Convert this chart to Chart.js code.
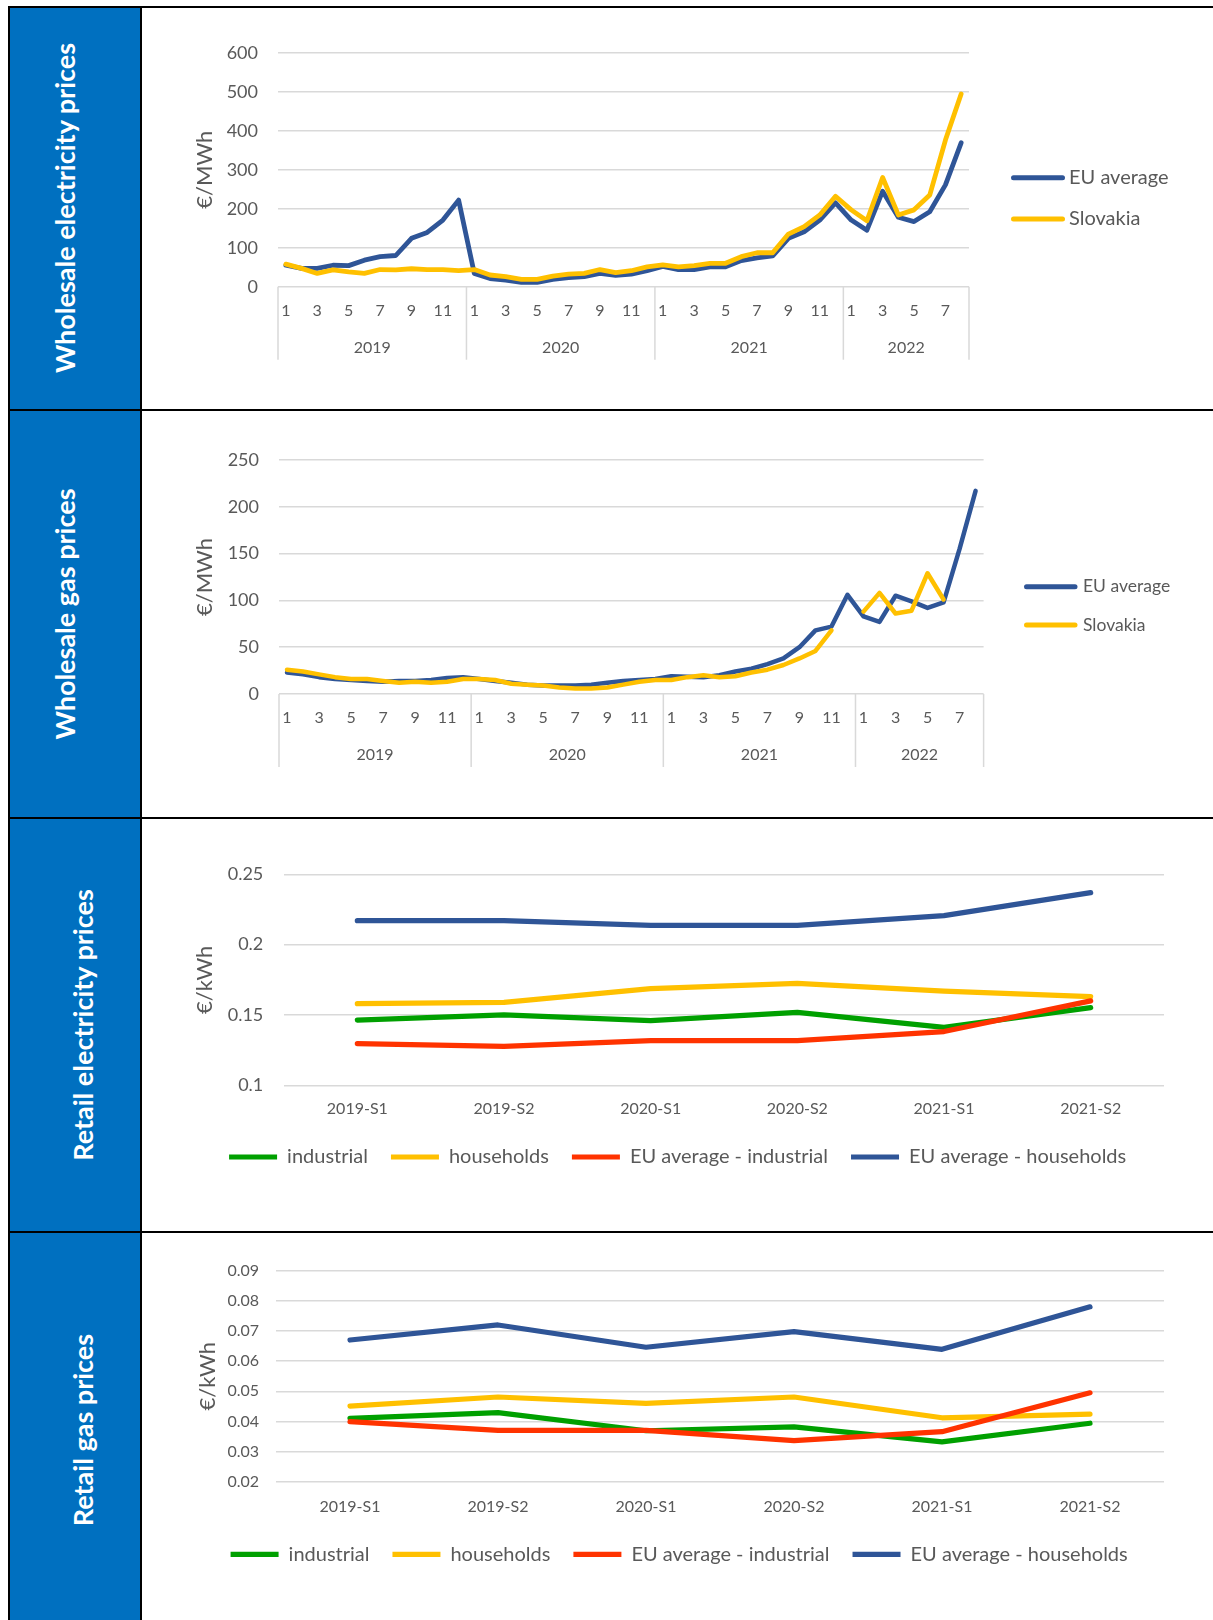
<!DOCTYPE html>
<html>
<head>
<meta charset="utf-8">
<title>Energy prices - Slovakia and EU average</title>
<script src="https://cdn.jsdelivr.net/npm/chart.js@4.4.0/dist/chart.umd.min.js"></script>
<style>
    html, body { margin: 0; padding: 0; background: #fff; }
    #page { position: relative; width: 1213px; height: 1620px; overflow: hidden; }
    .band { position: absolute; left: 10px; top: 8px; width: 130px; height: 1612px; background: #0070C0; }
    .rule { position: absolute; background: #000; }
    .side {
        position: absolute;
        color: #fff;
        font: bold 27px Lato, sans-serif;
        white-space: nowrap;
        transform: translate(-50%, -50%) rotate(-90deg);
    }
    canvas { position: absolute; left: 142px; }
</style>
</head>
<body>
<div id="page">
    <div class="band"></div>
    <div class="rule" style="left:8px;top:6px;width:1205px;height:2px"></div>
    <div class="rule" style="left:8px;top:6px;width:2px;height:1614px"></div>
    <div class="rule" style="left:140px;top:6px;width:2px;height:1614px"></div>
    <div class="rule" style="left:8px;top:409px;width:1205px;height:2px"></div>
    <div class="rule" style="left:8px;top:817px;width:1205px;height:2px"></div>
    <div class="rule" style="left:8px;top:1231px;width:1205px;height:2px"></div>

    <div class="side" style="left:64px;top:208px">Wholesale electricity prices</div>
    <div class="side" style="left:64px;top:614px">Wholesale gas prices</div>
    <div class="side" style="left:82px;top:1025px">Retail electricity prices</div>
    <div class="side" style="left:82px;top:1430px">Retail gas prices</div>

    <canvas id="wholesaleElecChart" width="1071" height="401" style="top:8px"></canvas>
    <canvas id="wholesaleGasChart" width="1071" height="406" style="top:411px"></canvas>
    <canvas id="retailElecChart" width="1071" height="412" style="top:819px"></canvas>
    <canvas id="retailGasChart" width="1071" height="387" style="top:1233px"></canvas>
</div>

<script>
// ---- Monthly wholesale data, Jan 2019 - Aug 2022 ----
const monthLabels = [
    '1', '2', '3', '4', '5', '6', '7', '8', '9', '10', '11', '12',
    '1', '2', '3', '4', '5', '6', '7', '8', '9', '10', '11', '12',
    '1', '2', '3', '4', '5', '6', '7', '8', '9', '10', '11', '12',
    '1', '2', '3', '4', '5', '6', '7', '8'
];
const yearLabels = ['2019', '2020', '2021', '2022'];
const monthsPerYear = [12, 12, 12, 8];

// €/MWh
const elecEU = [55, 47, 47, 55, 54, 68, 77, 80, 124, 139, 171, 222,
                34, 21, 17, 11, 11, 19, 23, 26, 34, 29, 32, 41,
                52, 44, 44, 51, 51, 67, 74, 79, 124, 141, 171, 215,
                171, 145, 245, 178, 167, 192, 261, 369];
const elecSK = [58, 47, 34, 43, 38, 34, 44, 43, 46, 44, 44, 41,
                44, 30, 26, 19, 19, 27, 32, 34, 44, 36, 41, 51,
                56, 51, 54, 60, 60, 77, 87, 87, 135, 154, 184, 232,
                197, 169, 280, 184, 197, 235, 376, 494];

const gasEU = [23, 21, 18, 16, 15, 14, 13, 14, 14, 15, 17, 18,
               16, 14, 12, 10, 9, 9, 9, 10, 12, 14, 15, 16,
               19, 18.5, 18, 20, 24, 27, 32, 38, 50, 68, 72, 106,
               83, 77, 105, 99, 92, 98, 155, 217];
const gasSK = [26, 24, 21, 18, 16, 16, 14, 12, 13, 12, 13, 16,
               16, 15, 11, 10, 9, 7, 6, 6, 7, 10, 13, 15,
               15, 18, 20, 18, 19, 23, 26, 31, 38, 46, 68, null,
               88, 108, 86, 89, 129, 101, null, null];

// ---- Half-yearly retail data, €/kWh ----
const semesters = ['2019-S1', '2019-S2', '2020-S1', '2020-S2', '2021-S1', '2021-S2'];

const retailElecIndustrial   = [0.1464, 0.1500, 0.1460, 0.1519, 0.1412, 0.1552];
const retailElecHouseholds   = [0.1580, 0.1590, 0.1687, 0.1725, 0.1670, 0.1630];
const retailElecEUIndustrial = [0.1296, 0.1277, 0.1318, 0.1318, 0.1382, 0.1600];
const retailElecEUHouseholds = [0.2170, 0.2170, 0.2137, 0.2137, 0.2206, 0.2370];

const retailGasIndustrial   = [0.0410, 0.0429, 0.0369, 0.0382, 0.0332, 0.0394];
const retailGasHouseholds   = [0.0451, 0.0481, 0.0460, 0.0481, 0.0412, 0.0424];
const retailGasEUIndustrial = [0.0399, 0.0370, 0.0370, 0.0336, 0.0366, 0.0495];
const retailGasEUHouseholds = [0.0670, 0.0720, 0.0646, 0.0698, 0.0639, 0.0780];

// Colours
const BLUE = '#2F5597';
const YELLOW = '#FFC000';
const GREEN = '#00A000';
const RED = '#FF3300';
const GRID = '#D9D9D9';
const TEXT = '#595959';
const FONT = "Lato, 'Open Sans', sans-serif";

Chart.defaults.font.family = FONT;
Chart.defaults.color = TEXT;
Chart.defaults.animation = false;

let charts = {
    wholesaleElec: null,
    wholesaleGas: null,
    retailElec: null,
    retailGas: null
};

// Year row + dividers under the month labels (Excel style two level axis)
const yearAxisPlugin = {
    id: 'yearAxis',
    afterDraw(chart, args, opts) {
        const x = chart.scales.x;
        const ctx = chart.ctx;
        const step = x.getPixelForValue(1) - x.getPixelForValue(0);
        const divider = (px) => {
            ctx.beginPath();
            ctx.moveTo(px, x.top);
            ctx.lineTo(px, x.top + opts.dividerLength);
            ctx.stroke();
        };
        ctx.save();
        ctx.strokeStyle = GRID;
        ctx.lineWidth = 1.5;
        ctx.fillStyle = TEXT;
        ctx.font = opts.fontSize + 'px ' + FONT;
        ctx.textAlign = 'center';
        ctx.textBaseline = 'middle';
        let start = 0;
        let edge = x.getPixelForValue(0) - step / 2;
        divider(edge);
        opts.years.forEach((year, k) => {
            const end = start + opts.counts[k];
            const right = x.getPixelForValue(end - 1) + step / 2;
            ctx.fillText(year, (edge + right) / 2, x.top + opts.labelOffset);
            divider(right);
            edge = right;
            start = end;
        });
        ctx.restore();
    }
};

// Legend to the right of the plot area, laid out like the Excel one
const sideLegendPlugin = {
    id: 'sideLegend',
    afterDraw(chart, args, opts) {
        const ctx = chart.ctx;
        const x0 = chart.chartArea.right + opts.offset;
        ctx.save();
        ctx.font = opts.fontSize + 'px ' + FONT;
        ctx.textBaseline = 'middle';
        ctx.lineCap = 'round';
        ctx.lineWidth = opts.lineWidth;
        chart.data.datasets.forEach((ds, i) => {
            const y = opts.top + i * opts.gap;
            ctx.strokeStyle = ds.borderColor;
            ctx.beginPath();
            ctx.moveTo(x0 + opts.lineWidth / 2, y);
            ctx.lineTo(x0 + opts.sampleWidth - opts.lineWidth / 2, y);
            ctx.stroke();
            ctx.fillStyle = TEXT;
            ctx.fillText(ds.label, x0 + opts.sampleWidth + opts.textGap, y);
        });
        ctx.restore();
    }
};

function lineDataset(label, data, color, width, order) {
    return {
        label: label,
        data: data,
        borderColor: color,
        backgroundColor: color,
        borderWidth: width,
        borderJoinStyle: 'round',
        borderCapStyle: 'round',
        pointRadius: 0,
        pointHoverRadius: 0,
        tension: 0,
        spanGaps: false,
        order: order
    };
}

function yAxis(cfg) {
    return {
        min: cfg.min,
        max: cfg.max,
        ticks: {
            stepSize: cfg.step,
            padding: cfg.tickPadding,
            font: { size: cfg.tickSize },
            callback: cfg.format
        },
        grid: { color: GRID, lineWidth: 1.5, drawTicks: false },
        border: { display: false },
        title: { display: true, text: cfg.title, font: { size: 22 }, padding: 0 },
        afterFit: function(scale) { scale.width = cfg.width; }
    };
}

// Wholesale charts (monthly, two level category axis, legend on the right)
function initializeWholesaleChart(id, datasets, cfg) {
    const ctx = document.getElementById(id).getContext('2d');
    return new Chart(ctx, {
        type: 'line',
        data: { labels: monthLabels, datasets: datasets },
        options: {
            responsive: false,
            devicePixelRatio: 1,
            layout: { padding: cfg.padding },
            scales: {
                x: {
                    offset: true,
                    grid: { display: false, drawTicks: false },
                    border: { display: false },
                    ticks: {
                        autoSkip: false,
                        maxRotation: 0,
                        padding: cfg.monthPadding,
                        font: { size: 16 },
                        callback: function(value, index) {
                            return index % 2 === 0 ? monthLabels[index] : '';
                        }
                    },
                    afterFit: function(scale) { scale.height = 80; }
                },
                y: yAxis(cfg.y)
            },
            plugins: {
                legend: { display: false },
                tooltip: { enabled: false },
                yearAxis: {
                    years: yearLabels,
                    counts: monthsPerYear,
                    fontSize: 16,
                    labelOffset: cfg.yearOffset,
                    dividerLength: 73
                },
                sideLegend: cfg.legend
            }
        },
        plugins: [yearAxisPlugin, sideLegendPlugin]
    });
}

// Retail charts (half-yearly, legend at the bottom)
function initializeRetailChart(id, datasets, cfg) {
    const ctx = document.getElementById(id).getContext('2d');
    return new Chart(ctx, {
        type: 'line',
        data: { labels: semesters, datasets: datasets },
        options: {
            responsive: false,
            devicePixelRatio: 1,
            layout: { padding: cfg.padding },
            scales: {
                x: {
                    offset: true,
                    grid: { display: false, drawTicks: false },
                    border: { display: false },
                    ticks: { maxRotation: 0, padding: cfg.labelPadding, font: { size: 16 } },
                    afterFit: function(scale) { scale.height = cfg.xHeight; }
                },
                y: yAxis(cfg.y)
            },
            plugins: {
                tooltip: { enabled: false },
                legend: {
                    position: 'bottom',
                    labels: {
                        usePointStyle: true,
                        pointStyle: 'line',
                        pointStyleWidth: 48,
                        padding: 23,
                        color: TEXT,
                        font: { size: 20 },
                        sort: function(a, b) { return a.datasetIndex - b.datasetIndex; }
                    }
                }
            }
        }
    });
}

function initializeAllCharts() {
    charts.wholesaleElec = initializeWholesaleChart('wholesaleElecChart', [
        lineDataset('EU average', elecEU, BLUE, 4.8, 1),
        lineDataset('Slovakia', elecSK, YELLOW, 4.8, 0)
    ], {
        padding: { top: 44.7, left: 49.8, right: 244, bottom: 42.3 },
        monthPadding: 14.7,
        yearOffset: 61.3,
        y: { min: 0, max: 600, step: 100, tickPadding: 20, tickSize: 18, title: '€/MWh', width: 86.2 },
        legend: { offset: 42, sampleWidth: 54, textGap: 4, top: 169.7, gap: 41.3, fontSize: 20, lineWidth: 5 }
    });

    charts.wholesaleGas = initializeWholesaleChart('wholesaleGasChart', [
        lineDataset('EU average', gasEU, BLUE, 4.5, 1),
        lineDataset('Slovakia', gasSK, YELLOW, 4.5, 0)
    ], {
        padding: { top: 49, left: 49.8, right: 229.4, bottom: 43 },
        monthPadding: 14.4,
        yearOffset: 61,
        y: { min: 0, max: 250, step: 50, tickPadding: 20, tickSize: 18, title: '€/MWh', width: 87.2 },
        legend: { offset: 40.4, sampleWidth: 53.5, textGap: 5.5, top: 175.7, gap: 38.3, fontSize: 17.5, lineWidth: 5 }
    });

    charts.retailElec = initializeRetailChart('retailElecChart', [
        lineDataset('industrial', retailElecIndustrial, GREEN, 5.2, 3),
        lineDataset('households', retailElecHouseholds, YELLOW, 5.2, 2),
        lineDataset('EU average - industrial', retailElecEUIndustrial, RED, 5.2, 1),
        lineDataset('EU average - households', retailElecEUHouseholds, BLUE, 5.2, 0)
    ], {
        padding: { top: 55.3, left: 49.3, right: 49, bottom: 54 },
        labelPadding: 14,
        xHeight: 38.7,
        y: {
            min: 0.1, max: 0.25, step: 0.05, tickPadding: 20.7, tickSize: 18, title: '€/kWh', width: 92.7,
            format: function(v) { return String(+v.toFixed(2)); }
        }
    });

    charts.retailGas = initializeRetailChart('retailGasChart', [
        lineDataset('industrial', retailGasIndustrial, GREEN, 5.2, 3),
        lineDataset('households', retailGasHouseholds, YELLOW, 5.2, 2),
        lineDataset('EU average - industrial', retailGasEUIndustrial, RED, 5.2, 1),
        lineDataset('EU average - households', retailGasEUHouseholds, BLUE, 5.2, 0)
    ], {
        padding: { top: 37.7, left: 52.3, right: 49, bottom: 45.7 },
        labelPadding: 15.4,
        xHeight: 39.6,
        y: {
            min: 0.02, max: 0.09, step: 0.01, tickPadding: 17, tickSize: 16, title: '€/kWh', width: 81.7,
            format: function(v) { return v.toFixed(2); }
        }
    });
}

initializeAllCharts();
</script>
</body>
</html>
